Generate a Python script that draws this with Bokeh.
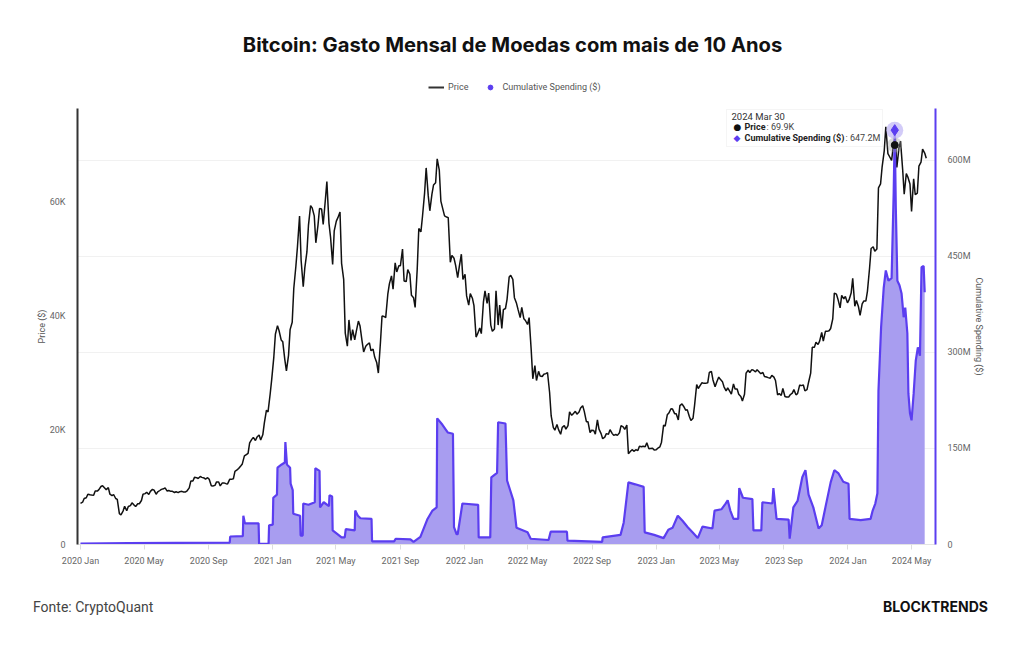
import numpy as np
import pandas as pd
from bokeh.plotting import figure
from bokeh.layouts import column
from bokeh.models import (Range1d, LinearAxis, FixedTicker, CustomJSTickFormatter,
                          DatetimeTickFormatter, MonthsTicker, Label, Legend, LegendItem,
                          BoxAnnotation, Div)
from bokeh.embed import file_html
from bokeh.resources import INLINE

# ---------------- data ----------------
TITLE = "Bitcoin: Gasto Mensal de Moedas com mais de 10 Anos"
SOURCE = "Fonte: CryptoQuant"
BRAND = "BLOCKTRENDS"
price_name = "Price"
spend_name = "Cumulative Spending ($)"

# price samples twice a week: Wednesday, then the following Sunday (from 2020-01-01)
price_start = "2020-01-01"
price_vals = [
    # 2020
    7200, 7400, 8050, 8190, 8800, 8700, 8650, 8600, 9350, 9350,
    9600, 10150, 10300, 9900, 9600, 9950, 8800, 8550,
    8750, 8050, 7900, 5400, 5200, 5850, 6700, 5900,
    6650, 6800, 7300, 6900, 6650, 7120, 7130, 7700, 8800, 8900,
    9150, 8750, 9300, 9650, 9500, 8800, 9200, 9450,
    9650, 9750, 9900, 9350, 9450, 9300, 9300, 9100,
    9230, 9080, 9250, 9300, 9200, 9200, 9400, 9900, 11100, 11100,
    11750, 11700, 11550, 11900, 11750, 11650, 11450, 11700,
    11400, 10300, 10250, 10350, 10950, 10950, 10250, 10780, 10780, 10650,
    10600, 11400, 11400, 11500, 12800, 13050, 13300, 13750,
    14100, 15500, 15700, 15950, 17800, 18400, 18750, 18200,
    18800, 19150, 18300, 19200, 21300, 23500, 23200, 26300, 28900, 32800,
    # 2021
    36800, 38300, 37400, 35800, 35500, 32300, 30400, 33100,
    37600, 38900, 44800, 48700, 52100, 57500, 49700, 45100,
    48400, 51200, 55900, 59300, 58900, 57500, 52800, 55800, 58800, 58700,
    56000, 60200, 63500, 56200, 53800, 49000, 54900, 56600,
    57200, 58200, 49200, 46400, 37000, 34700, 39300, 35700,
    37600, 35800, 37300, 39100, 38300, 35600, 33700, 34700, 35000, 35300,
    33900, 34200, 32800, 31800, 30000, 35400, 40000, 39900,
    39700, 43800, 45600, 47000, 44700, 49300, 47700, 48800,
    48800, 51700, 46100, 46000, 48100, 47300, 43600, 43200, 41500, 48200,
    55300, 54700, 57400, 61500, 65900, 61000, 58400, 61300,
    62900, 63300, 67500, 65500, 60100, 58600, 57500, 57300,
    57200, 49400, 50600, 50100, 48900, 46700, 48600, 50800, 46400, 47300,
    # 2022
    43500, 41900, 43900, 43100, 41800, 36300, 36900, 37900,
    36900, 42400, 44400, 42200, 44000, 38400, 37300, 37700,
    44400, 38400, 41900, 37800, 41100, 41300, 42900, 46800, 47100, 46400,
    43200, 42200, 41100, 39700, 41500, 39500, 39200, 38500,
    39700, 34000, 29000, 31300, 28700, 30300, 29500, 29400,
    29800, 29900, 30100, 26600, 22500, 20500, 20000, 21000, 20100, 19300,
    20500, 20800, 20200, 20800, 23200, 22600, 22900, 23300,
    22800, 23200, 23900, 24300, 23300, 21500, 21500, 19600, 20000, 19950,
    19300, 21800, 20200, 19400, 18500, 18800, 19400, 19300,
    20100, 19450, 19100, 19250, 19100, 19550, 20800, 20600,
    20150, 20900, 15900, 16300, 16600, 16300, 16600, 16450, 17200, 17100,
    17200, 17100, 17800, 16750, 16800, 16850, 16550, 16600,
    # 2023
    16850, 17100, 17900, 20900, 20700, 22700, 23000, 23750,
    23700, 22900, 22900, 21800, 24300, 24600, 24200, 23500,
    23600, 22400, 21700, 22100, 24400, 28000, 27300, 27900, 28300, 28200,
    28200, 28300, 30100, 30300, 28800, 27600, 28400, 29300,
    28900, 28500, 27600, 26900, 27400, 26800, 26300, 28100, 27200, 27200,
    26300, 25900, 25100, 26300, 30000, 30500, 30100, 30600,
    30500, 30200, 30600, 30200, 29900, 30100, 29400, 29300,
    29200, 29100, 29600, 29300, 28700, 26200, 26400, 26100, 27300, 25900,
    25800, 25800, 26200, 26500, 27100, 26200, 26400, 27900,
    27800, 27900, 26900, 27100, 28400, 30000, 34500, 34500,
    35400, 35000, 35600, 37100, 35600, 37300, 37300, 37400, 37800, 39500,
    44000, 43800, 42900, 41400, 43600, 43000, 43400, 42300,
    # 2024
    42800, 44000, 46600, 41700, 42700, 41600, 40100, 42100, 42600, 42600,
    44300, 48300, 51800, 52100, 51300, 51700, 62400, 63100,
    66100, 68900, 73100, 68400, 67900, 67200, 69500, 71300,
    66000, 69400, 70600, 65700, 61300, 64900, 64300, 63100,
    58300, 64000, 61200, 61500, 66200, 66900, 69200, 68500, 67600,
]

spend_dates = [
    "2020-01-01", "2020-04-01", "2020-07-01", "2020-10-11", "2020-10-12", "2020-11-05", "2020-11-06",
    "2020-11-09", "2020-12-05", "2020-12-06", "2020-12-24", "2020-12-25", "2021-01-01", "2021-01-02",
    "2021-01-09", "2021-01-10", "2021-01-18", "2021-01-24", "2021-01-25", "2021-01-28", "2021-02-03",
    "2021-02-04", "2021-02-08", "2021-02-09", "2021-02-22", "2021-02-23", "2021-02-27", "2021-02-28",
    "2021-03-10", "2021-03-22", "2021-03-23", "2021-03-31", "2021-04-01", "2021-04-08", "2021-04-18",
    "2021-04-19", "2021-04-24", "2021-04-25", "2021-05-12", "2021-05-18", "2021-05-20", "2021-06-06",
    "2021-06-07", "2021-06-12", "2021-06-17", "2021-07-08", "2021-07-09", "2021-08-20", "2021-08-23",
    "2021-09-20", "2021-09-26", "2021-10-09", "2021-10-22", "2021-11-01", "2021-11-09", "2021-11-10",
    "2021-11-20", "2021-11-30", "2021-12-10", "2021-12-12", "2021-12-17", "2021-12-19", "2021-12-28",
    "2022-01-27", "2022-01-28", "2022-02-19", "2022-02-21", "2022-03-04", "2022-03-06", "2022-03-20",
    "2022-03-23", "2022-04-04", "2022-04-10", "2022-05-01", "2022-05-07", "2022-06-10", "2022-06-14",
    "2022-07-15", "2022-07-16", "2022-09-20", "2022-09-21", "2022-10-25", "2022-10-31", "2022-11-09",
    "2022-11-22", "2022-12-08", "2022-12-10", "2022-12-28", "2023-01-15", "2023-01-24", "2023-02-01",
    "2023-02-11", "2023-02-20", "2023-03-02", "2023-03-11", "2023-03-21", "2023-03-30", "2023-04-18",
    "2023-04-22", "2023-05-05", "2023-05-13", "2023-05-17", "2023-05-22", "2023-05-28", "2023-06-06",
    "2023-06-08", "2023-06-15", "2023-07-03", "2023-07-05", "2023-07-20", "2023-07-22", "2023-08-10",
    "2023-08-12", "2023-08-18", "2023-09-10", "2023-09-12", "2023-09-19", "2023-09-27", "2023-10-06",
    "2023-10-12", "2023-10-18", "2023-10-27", "2023-11-06", "2023-11-12", "2023-11-19", "2023-11-29",
    "2023-12-06", "2023-12-14", "2023-12-23", "2024-01-02", "2024-01-04", "2024-01-25", "2024-02-13",
    "2024-02-17", "2024-02-22", "2024-02-26", "2024-02-28", "2024-03-04", "2024-03-09", "2024-03-13",
    "2024-03-18", "2024-03-24", "2024-03-28", "2024-03-30", "2024-04-01", "2024-04-04", "2024-04-08",
    "2024-04-12", "2024-04-16", "2024-04-19", "2024-04-23", "2024-04-25", "2024-04-28", "2024-05-01",
    "2024-05-05", "2024-05-09", "2024-05-13", "2024-05-17", "2024-05-20", "2024-05-24", "2024-05-26",
]
spend_vals_m = [
    1.5, 2, 2.5, 3, 12.5, 13, 45,
    33, 33, 1, 1, 30, 31, 73,
    78, 120, 125, 128, 160, 125, 120,
    95, 85, 48, 45, 14, 14, 64,
    62, 66, 119, 115, 58, 66, 60,
    77, 75, 22, 11, 11, 24, 22,
    53, 45, 41, 40, 5, 5, 9,
    8, 4, 12, 39, 53, 58, 197,
    187, 175, 173, 27, 16, 16, 64,
    62, 11, 11, 105, 112, 191, 189,
    100, 69, 26, 19, 9, 7, 20,
    20, 6, 4, 11, 15, 34, 97,
    94, 90, 19, 15, 10, 23, 26,
    45, 37, 27, 19, 10, 28, 25,
    53, 55, 64, 69, 53, 40, 40,
    88, 73, 71, 22, 22, 66, 64,
    88, 40, 39, 9, 58, 68, 105,
    116, 78, 58, 25, 30, 58, 97,
    116, 111, 98, 95, 40, 38, 40,
    53, 64, 80, 240, 339, 401, 428,
    412, 416, 550, 647.2, 527, 412, 405,
    392, 355, 370, 330, 236, 205, 194,
    236, 287, 308, 295, 433, 435, 394,
]

hover_date = "2024-03-30"
hover_price = 69.9e3
hover_spend = 647.2e6

price_ticks = [0, 20000, 40000, 60000]
spend_ticks = [0, 150e6, 300e6, 450e6, 600e6]

# ---------------- style ----------------
W = 1024
TOP_H, MAIN_H, FOOT_H = 108, 473, 64
FL, FR = 77, 935
FRAME_BOTTOM = 544          # page y of the main frame's bottom
PURPLE = "#5b3ef0"
FILL = "#a89df0"
FONT = "Roboto"

wed = pd.date_range(price_start, periods=(len(price_vals) + 1) // 2, freq="7D")
sun = wed + pd.Timedelta(days=4)
price_dates = [d for pair in zip(wed, sun) for d in pair][:len(price_vals)]
sdates = pd.to_datetime(spend_dates)
svals = np.array(spend_vals_m) * 1e6
hdt = pd.Timestamp(hover_date)

# ---------- header (title + legend) ----------
# frames in a column are aligned to the main chart's frame (x 77..935), so map page pixels 1:1
top = figure(width=W, height=TOP_H, x_range=Range1d(FL, FR), y_range=Range1d(TOP_H, 0),
             output_backend="svg", toolbar_location=None, title=None,
             x_axis_location=None, y_axis_location=None,
             min_border_left=FL, min_border_right=W - FR, min_border_top=0, min_border_bottom=0)
top.outline_line_color = None
top.grid.visible = False
top.background_fill_color = "white"
top.border_fill_color = "white"
top.add_layout(Label(x=512, y=44, text=TITLE, text_font="Inter", text_font_size="20.2px",
                     text_font_style="bold", text_color="#111", text_align="center",
                     text_baseline="middle"))
lg_line = top.line(x=[np.nan, np.nan], y=[np.nan, np.nan], line_color="#333", line_width=2)
lg_dot = top.scatter(x=[np.nan], y=[np.nan], marker="circle", size=9, fill_color=PURPLE, line_color=PURPLE)
legend = Legend(items=[LegendItem(label=price_name, renderers=[lg_line]),
                       LegendItem(label=spend_name, renderers=[lg_dot])],
                orientation="horizontal", location=(428 - FL, TOP_H - 93),
                padding=0, margin=0, spacing=14, glyph_width=16, glyph_height=12,
                label_standoff=4, label_height=12, label_text_font=FONT, label_text_font_size="9px",
                label_text_color="#555", border_line_color=None, background_fill_alpha=0)
top.add_layout(legend)

# ---------- main chart ----------
p = figure(width=W, height=MAIN_H, x_axis_type="datetime", y_axis_location="right",
           output_backend="svg", toolbar_location=None, title=None,
           x_range=Range1d(pd.Timestamp("2019-12-26 07:00"), pd.Timestamp("2024-06-15 14:00")),
           y_range=Range1d(0, 681e6),
           min_border_left=FL, min_border_right=W - FR, min_border_top=0,
           min_border_bottom=MAIN_H - (FRAME_BOTTOM - TOP_H))
p.outline_line_color = None
p.background_fill_color = "white"
p.border_fill_color = "white"
p.extra_y_ranges = {"price": Range1d(0, 76300)}

# right axis (spending)
ry = p.yaxis[0]
ry.ticker = FixedTicker(ticks=spend_ticks)
ry.formatter = CustomJSTickFormatter(code="return tick == 0 ? '0' : (tick/1e6).toFixed(0) + 'M';")
ry.axis_line_color = PURPLE
ry.axis_line_width = 2
ry.major_tick_line_color = None
ry.minor_tick_line_color = None
ry.major_label_standoff = 6
ry.major_label_text_font = FONT
ry.major_label_text_font_size = "9px"
ry.major_label_text_color = "#666"
ry.axis_label = spend_name
ry.axis_label_text_font = FONT
ry.axis_label_text_font_size = "9px"
ry.axis_label_text_font_style = "normal"
ry.axis_label_text_color = "#555"
ry.axis_label_standoff = 0

# left axis (price)
ly = LinearAxis(y_range_name="price", ticker=FixedTicker(ticks=price_ticks),
                formatter=CustomJSTickFormatter(code="return tick == 0 ? '0' : (tick/1000).toFixed(0) + 'K';"))
ly.axis_line_color = "#333"
ly.axis_line_width = 2
ly.major_tick_line_color = None
ly.minor_tick_line_color = None
ly.major_label_standoff = 6
ly.major_label_text_font = FONT
ly.major_label_text_font_size = "9px"
ly.major_label_text_color = "#666"
ly.axis_label = price_name + " ($)"
ly.axis_label_text_font = FONT
ly.axis_label_text_font_size = "9px"
ly.axis_label_text_font_style = "normal"
ly.axis_label_text_color = "#555"
ly.axis_label_standoff = 0
p.add_layout(ly, "left")

# bottom axis
xa = p.xaxis[0]
xa.ticker = MonthsTicker(months=[0, 4, 8])
fmt = "%Y %b"
xa.formatter = DatetimeTickFormatter(months=fmt, years=fmt, days=fmt, hours=fmt)
xa.axis_line_color = "#e4e4e4"
xa.major_tick_line_color = "#dddddd"
xa.major_tick_out = 5
xa.major_tick_in = 0
xa.minor_tick_line_color = None
xa.major_label_standoff = 6
xa.major_label_text_font = FONT
xa.major_label_text_font_size = "9px"
xa.major_label_text_color = "#666"

p.xgrid.visible = False
p.ygrid[0].grid_line_color = "#f1f1f1"

# series
p.line(price_dates, price_vals, y_range_name="price", line_color="#111", line_width=1.5)
p.varea(x=sdates, y1=0, y2=svals, fill_color=FILL, fill_alpha=1.0)
p.line(sdates, svals, line_color=PURPLE, line_width=2.2)

# hover markers
p.scatter([hdt], [hover_price], y_range_name="price", size=15, fill_color="#999", fill_alpha=0.35, line_color=None)
p.scatter([hdt], [hover_price], y_range_name="price", size=7, fill_color="#111", line_color="#111")
p.scatter([hdt], [hover_spend], size=17, fill_color="#c3b9f6", fill_alpha=0.75, line_color=None)
p.scatter([hdt], [hover_spend], marker="diamond", size=11, fill_color=PURPLE, line_color=PURPLE)


def lab(text, X, Y, size="9px", color="#555", bold=False, align="left", font=FONT):
    # X, Y in page pixels; converted to screen units relative to the main frame
    p.add_layout(Label(x=X - FL, y=FRAME_BOTTOM - Y, x_units="screen", y_units="screen", text=text,
                       text_font=font, text_font_size=size, text_color=color,
                       text_font_style="bold" if bold else "normal",
                       text_align=align, text_baseline="middle"))


# tooltip box
p.add_layout(BoxAnnotation(left=726 - FL, right=882 - FL, top=FRAME_BOTTOM - 109,
                           bottom=FRAME_BOTTOM - 146,
                           left_units="screen", right_units="screen", top_units="screen",
                           bottom_units="screen", fill_color="white", fill_alpha=0.96,
                           line_color="#dedede", line_width=1))
lab(pd.Timestamp(hover_date).strftime("%Y %b %d").replace(" 0", " "), 731, 116, size="9.5px", color="#333")
lab("\u25CF", 733, 126, size="9px", color="#111", font="DejaVu Sans")
lab(price_name, 744, 126, size="9px", color="#222", bold=True)
lab(": %.1fK" % (hover_price / 1000), 766, 126, size="9px", color="#444")
lab("\u25C6", 733, 137, size="9px", color=PURPLE, font="DejaVu Sans")
lab(spend_name, 744, 137, size="9px", color="#222", bold=True)
lab(": %.1fM" % (hover_spend / 1e6), 845, 137, size="9px", color="#444")

# ---------- footer ----------
foot_html = (
    '<div style="position:relative;width:%dpx;height:%dpx;margin:0;padding:0;">'
    '<span style="position:absolute;left:33px;top:19px;font-family:Roboto;font-size:14px;'
    'line-height:14px;color:#444;white-space:nowrap;">%s</span>'
    '<span style="position:absolute;right:36px;top:19px;font-family:Inter;font-size:14px;'
    'font-weight:bold;line-height:14px;color:#111;white-space:nowrap;">%s</span>'
    '</div>' % (W, FOOT_H, SOURCE, BRAND)
)
foot = Div(text=foot_html, width=W, height=FOOT_H, margin=0)

layout = column(top, p, foot, spacing=0)
open("out.html", "w").write(file_html(layout, INLINE))
